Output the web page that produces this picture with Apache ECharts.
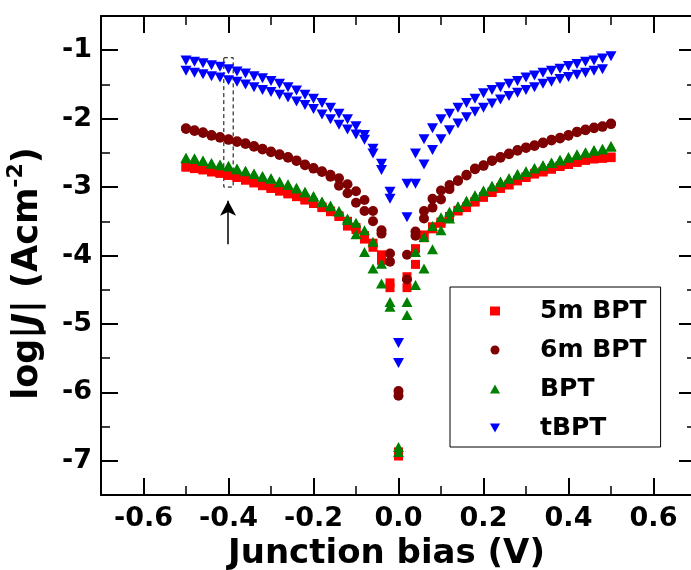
<!DOCTYPE html>
<html>
<head>
<meta charset="utf-8">
<script src="https://cdn.jsdelivr.net/npm/echarts@6/dist/echarts.min.js"></script>
<style>html,body{margin:0;padding:0;background:#fff}#c{width:691px;height:570px}</style>
</head>
<body>
<div id="c"></div>
<script>
// Junction bias (V)
const bias = [-0.50,-0.48,-0.46,-0.44,-0.42,-0.40,-0.38,-0.36,-0.34,-0.32,-0.30,-0.28,-0.26,-0.24,-0.22,-0.20,-0.18,-0.16,-0.14,-0.12,-0.10,-0.08,-0.06,-0.04,-0.02,0.00,0.02,0.04,0.06,0.08,0.10,0.12,0.14,0.16,0.18,0.20,0.22,0.24,0.26,0.28,0.30,0.32,0.34,0.36,0.38,0.40,0.42,0.44,0.46,0.48,0.50];

// log|J| values, two sweeps per sample
const bpt5mA = [-2.70,-2.72,-2.74,-2.77,-2.79,-2.82,-2.85,-2.89,-2.93,-2.97,-3.01,-3.05,-3.09,-3.13,-3.18,-3.23,-3.29,-3.35,-3.42,-3.50,-3.59,-3.71,-3.82,-3.99,-4.40,-6.87,-4.31,-3.90,-3.70,-3.58,-3.51,-3.43,-3.34,-3.29,-3.21,-3.14,-3.07,-3.01,-2.96,-2.90,-2.85,-2.80,-2.77,-2.73,-2.69,-2.66,-2.63,-2.60,-2.58,-2.57,-2.56];
const bpt5mB = [-2.71,-2.73,-2.75,-2.78,-2.80,-2.83,-2.86,-2.90,-2.94,-2.98,-3.02,-3.06,-3.10,-3.14,-3.19,-3.24,-3.30,-3.36,-3.43,-3.57,-3.62,-3.76,-3.88,-4.07,-4.47,-6.93,-4.47,-4.13,-3.74,-3.61,-3.53,-3.44,-3.35,-3.30,-3.22,-3.15,-3.08,-3.02,-2.97,-2.91,-2.86,-2.81,-2.78,-2.74,-2.70,-2.67,-2.64,-2.61,-2.59,-2.58,-2.57];
const bpt6mA = [-2.14,-2.17,-2.20,-2.24,-2.27,-2.30,-2.33,-2.36,-2.40,-2.44,-2.48,-2.52,-2.56,-2.61,-2.67,-2.72,-2.77,-2.82,-2.87,-2.96,-3.06,-3.19,-3.35,-3.63,-3.97,-5.98,-3.99,-3.65,-3.35,-3.17,-3.05,-2.97,-2.90,-2.82,-2.73,-2.68,-2.61,-2.56,-2.51,-2.46,-2.42,-2.39,-2.35,-2.31,-2.28,-2.24,-2.19,-2.16,-2.13,-2.11,-2.07];
const bpt6mB = [-2.15,-2.18,-2.21,-2.25,-2.28,-2.31,-2.34,-2.37,-2.41,-2.45,-2.49,-2.53,-2.57,-2.62,-2.68,-2.73,-2.78,-2.85,-2.98,-3.09,-3.23,-3.35,-3.50,-3.68,-4.09,-6.05,-4.35,-3.71,-3.46,-3.30,-3.18,-3.03,-2.91,-2.83,-2.74,-2.69,-2.62,-2.57,-2.52,-2.47,-2.43,-2.40,-2.36,-2.32,-2.29,-2.25,-2.20,-2.17,-2.14,-2.12,-2.08];
const bptA = [-2.57,-2.58,-2.61,-2.65,-2.67,-2.69,-2.73,-2.76,-2.80,-2.84,-2.87,-2.92,-2.96,-3.01,-3.07,-3.13,-3.21,-3.27,-3.35,-3.46,-3.52,-3.63,-3.80,-4.12,-4.68,-6.80,-4.68,-3.95,-3.73,-3.57,-3.44,-3.36,-3.28,-3.20,-3.12,-3.05,-2.98,-2.92,-2.87,-2.81,-2.77,-2.72,-2.68,-2.64,-2.60,-2.56,-2.52,-2.49,-2.46,-2.44,-2.40];
const bptB = [-2.58,-2.59,-2.62,-2.66,-2.68,-2.70,-2.74,-2.77,-2.81,-2.85,-2.88,-2.93,-2.97,-3.02,-3.08,-3.14,-3.22,-3.28,-3.36,-3.48,-3.69,-3.95,-4.19,-4.41,-4.75,-6.87,-4.87,-4.43,-4.19,-3.91,-3.63,-3.46,-3.29,-3.21,-3.13,-3.06,-2.99,-2.93,-2.88,-2.82,-2.78,-2.73,-2.69,-2.65,-2.61,-2.57,-2.53,-2.50,-2.47,-2.45,-2.41];
const tbptA = [-1.15,-1.17,-1.19,-1.22,-1.24,-1.28,-1.31,-1.34,-1.38,-1.41,-1.45,-1.49,-1.54,-1.59,-1.65,-1.71,-1.77,-1.84,-1.93,-2.01,-2.11,-2.24,-2.44,-2.66,-3.07,-5.28,-2.95,-2.51,-2.30,-2.14,-2.01,-1.93,-1.84,-1.77,-1.71,-1.63,-1.58,-1.54,-1.49,-1.45,-1.40,-1.37,-1.33,-1.30,-1.27,-1.23,-1.20,-1.17,-1.15,-1.12,-1.09];
const tbptB = [-1.30,-1.33,-1.35,-1.38,-1.40,-1.44,-1.46,-1.50,-1.54,-1.58,-1.61,-1.65,-1.69,-1.75,-1.80,-1.86,-1.94,-2.01,-2.09,-2.16,-2.23,-2.31,-2.51,-2.75,-3.17,-5.57,-3.44,-2.95,-2.67,-2.46,-2.30,-2.17,-2.07,-1.98,-1.90,-1.84,-1.78,-1.72,-1.67,-1.62,-1.58,-1.54,-1.49,-1.46,-1.42,-1.39,-1.36,-1.33,-1.30,-1.28,null];

const seriesNames = ['5m BPT', '6m BPT', 'BPT', 'tBPT'];

// axis ticks
const xTicks = [-0.6,-0.4,-0.2,0,0.2,0.4,0.6];
const xMinorTicks = [-0.5,-0.3,-0.1,0.1,0.3,0.5];
const yTicks = [-7,-6,-5,-4,-3,-2,-1];
const yMinorTicks = [-6.5,-5.5,-4.5,-3.5,-2.5,-1.5];

// annotation (dashed box and arrow at -0.4 V)
const boxCorners = [[-0.411,-1.11],[-0.389,-3.0]];
const arrowEnds = [[-0.401,-3.835],[-0.401,-3.20]];

function pairs(a, b) {
  const out = [];
  for (let i = 0; i < bias.length; i++) {
    if (a[i] != null) out.push([bias[i], a[i]]);
    if (b[i] != null) out.push([bias[i], b[i]]);
  }
  return out;
}

const FF = 'DejaVu Sans';
const lab = {fontFamily: FF, fontWeight: 'bold', fontSize: 27, color: '#000'};
const lineS = {color: '#000', width: 2};

function xAx(pos, ticks, len, major) {
  return {
    type: 'value', position: pos, min: -0.7, max: 0.7,
    axisLine: {show: major, onZero: false, lineStyle: lineS},
    axisTick: {show: true, inside: true, length: len, customValues: ticks, lineStyle: {color: '#000', width: major ? 2 : 1.5}},
    axisLabel: {show: false},
    splitLine: {show: false}
  };
}
function yAx(pos, ticks, len, major) {
  return {
    type: 'value', position: pos, min: -7.5, max: -0.5,
    axisLine: {show: major, onZero: false, lineStyle: lineS},
    axisTick: {show: true, inside: true, length: len, customValues: ticks, lineStyle: {color: '#000', width: major ? 2 : 1.5}},
    axisLabel: {show: false},
    splitLine: {show: false}
  };
}

const xMain = xAx('bottom', xTicks, 17, true);
xMain.axisLabel = Object.assign({show: true, customValues: xTicks, margin: 10, formatter: v => v.toFixed(1)}, lab);
xMain.name = 'Junction bias (V)';
xMain.nameLocation = 'middle';
xMain.nameGap = 41;
xMain.nameTextStyle = {fontFamily: FF, fontWeight: 'bold', fontSize: 34, color: '#000', padding: [0, 24, 0, 0]};

const yMain = yAx('left', yTicks, 17, true);
yMain.axisLabel = Object.assign({show: true, customValues: yTicks, margin: 9, formatter: v => String(v)}, lab);
yMain.name = 'log|{i|J}| (Acm{s|-2})';
yMain.nameLocation = 'middle';
yMain.nameRotate = 90;
yMain.nameGap = 25;
yMain.nameTextStyle = {
  fontFamily: FF, fontWeight: 'bold', fontSize: 35, color: '#000', lineHeight: 46,
  padding: [0, 36, 0, 0],
  rich: {
    i: {fontFamily: FF, fontWeight: 'bold', fontStyle: 'italic', fontSize: 35, color: '#000', lineHeight: 46},
    s: {fontFamily: FF, fontWeight: 'bold', fontSize: 22, color: '#000', lineHeight: 24, verticalAlign: 'top'}
  }
};

const colors = ['#ff0000', '#7f0000', '#008000', '#0000ff'];

const option = {
  animation: false,
  backgroundColor: '#fff',
  grid: {left: 101, top: 16, width: 595, height: 479, containLabel: false, outerBoundsMode: 'none'},
  xAxis: [xMain, xAx('bottom', xMinorTicks, 9, false), xAx('top', xTicks, 17, true), xAx('top', xMinorTicks, 9, false)],
  yAxis: [yMain, yAx('left', yMinorTicks, 9, false), yAx('right', yTicks, 17, true), yAx('right', yMinorTicks, 9, false)],
  legend: {
    left: 450, top: 287, orient: 'vertical',
    padding: [11, 14, 6, 40],
    itemWidth: 10, itemHeight: 9, itemGap: 13,
    borderColor: '#000', borderWidth: 1,
    selectedMode: false,
    textStyle: {fontFamily: FF, fontWeight: 'bold', fontSize: 25, color: '#000', lineHeight: 26, padding: [0, 0, 0, 35]},
    data: seriesNames
  },
  series: [
    {
      name: seriesNames[0], type: 'scatter', data: pairs(bpt5mA, bpt5mB),
      symbol: 'rect', symbolSize: 9, itemStyle: {color: colors[0], opacity: 1},
      markArea: {
        silent: true, label: {show: false},
        itemStyle: {color: 'rgba(0,0,0,0)', borderColor: '#000', borderWidth: 1, borderType: [4, 3]},
        data: [[{coord: boxCorners[0]}, {coord: boxCorners[1]}]]
      },
      markLine: {
        silent: true, label: {show: false}, symbol: ['none', 'arrow'], symbolSize: [12, 15],
        lineStyle: {color: '#000', width: 1.5, type: 'solid'},
        data: [[{coord: arrowEnds[0]}, {coord: arrowEnds[1]}]]
      }
    },
    {name: seriesNames[1], type: 'scatter', data: pairs(bpt6mA, bpt6mB), symbol: 'circle', symbolSize: 10, itemStyle: {color: colors[1], opacity: 1}},
    {name: seriesNames[2], type: 'scatter', data: pairs(bptA, bptB), symbol: 'triangle', symbolSize: [11, 10], itemStyle: {color: colors[2], opacity: 1}},
    {name: seriesNames[3], type: 'scatter', data: pairs(tbptA, tbptB), symbol: 'path://M0,0L10,0L5,9Z', symbolSize: [11, 10], itemStyle: {color: colors[3], opacity: 1}}
  ]
};

const chart = echarts.init(document.getElementById('c'), null, {renderer: 'canvas'});
chart.setOption(option);
</script>
</body>
</html>
